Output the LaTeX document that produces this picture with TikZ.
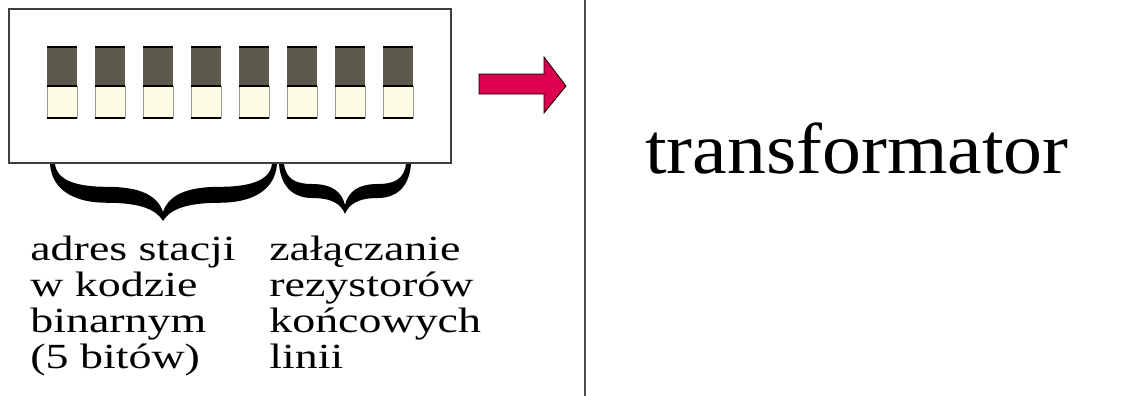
\documentclass[tikz,border=0pt]{standalone}
\usepackage{fontspec}
\setmainfont{Liberation Serif}
\usepackage{tikz}
\definecolor{swdark}{HTML}{5B594C}
\definecolor{swlight}{HTML}{FEFDE3}
\definecolor{strzalka}{HTML}{DC004E}
% klamra: lewy x, x ostrza, prawy x, glebokosc, gorny y
\newcommand{\klamra}[5]{%
  \fill[shift={(0,#5)}]
  (#1,0) .. controls ({#1+2},{0.5*#4}) and ({#1+0.25*(#2-#1)},{0.68*#4}) .. ({#1+0.5*(#2-#1)},{0.68*#4})
  .. controls ({#1+0.8*(#2-#1)},{0.68*#4}) and ({#2-0.06*(#2-#1)},{0.8*#4}) .. (#2,#4)
  .. controls ({#2+0.06*(#3-#2)},{0.8*#4}) and ({#3-0.8*(#3-#2)},{0.68*#4}) .. ({#3-0.5*(#3-#2)},{0.68*#4})
  .. controls ({#3-0.25*(#3-#2)},{0.68*#4}) and ({#3-2},{0.5*#4}) .. (#3,0)
  -- ({#3-5},0)
  .. controls ({#3-7},{0.3*#4}) and ({#3-0.25*(#3-#2)},{0.4*#4}) .. ({#3-0.5*(#3-#2)},{0.4*#4})
  .. controls ({#3-0.8*(#3-#2)},{0.4*#4}) and ({#2+0.05*(#3-#2)},{0.55*#4}) .. (#2,{#4-9})
  .. controls ({#2-0.05*(#2-#1)},{0.55*#4}) and ({#1+0.8*(#2-#1)},{0.4*#4}) .. ({#1+0.5*(#2-#1)},{0.4*#4})
  .. controls ({#1+0.25*(#2-#1)},{0.4*#4}) and ({#1+7},{0.3*#4}) .. ({#1+5},0) -- cycle;}

\begin{document}
\begin{tikzpicture}[x=0.75pt,y=-0.75pt,
    opis/.style={font=\fontsize{26.5}{26.8}\selectfont,align=left,anchor=base west,inner sep=0pt,xscale=1.3},
    tytul/.style={font=\fontsize{54}{60}\selectfont,anchor=base west,inner sep=0pt,xscale=1.08}]
		\useasboundingbox (0,0) rectangle (1143,396);
		\draw[line width=1.2pt,black!75](9,9) rectangle (451,163);
		\foreach \i in {0,...,7}{
			\fill[swdark]({47+48*\i},47) rectangle ({77+48*\i},86);
			\fill[swlight]({47+48*\i},86) rectangle ({77+48*\i},118);
			\draw[black!40]({47+48*\i},86)--({47+48*\i},118) ({77+48*\i},86)--({77+48*\i},118);
			\draw[line width=1.3pt]({47+48*\i},47)--({77+48*\i},47) ({47+48*\i},86)--({77+48*\i},86) ({47+48*\i},118)--({77+48*\i},118);
		}
		\klamra{50}{163}{277}{57}{164}
		\klamra{279}{345}{411}{50}{164}
		% baseline of the last line
		\node[opis](adres) at (30,368){adres stacji\\w kodzie\\binarnym\\(5 bitów)};
		\node[opis](rezyst) at (269,368){załączanie\\rezystorów\\końcowych\\linii};
		\filldraw[fill=strzalka,draw=black,line width=0.6pt](479,74)--(544,74)--(544,57)--(566,86)--(544,113)--(544,94)--(479,94)--cycle;
		\draw[line width=1.2pt,black!70](585,0)--(585,396);
		\node[tytul](transf) at (645,173){transformator};
	\end{tikzpicture}
\end{document}
